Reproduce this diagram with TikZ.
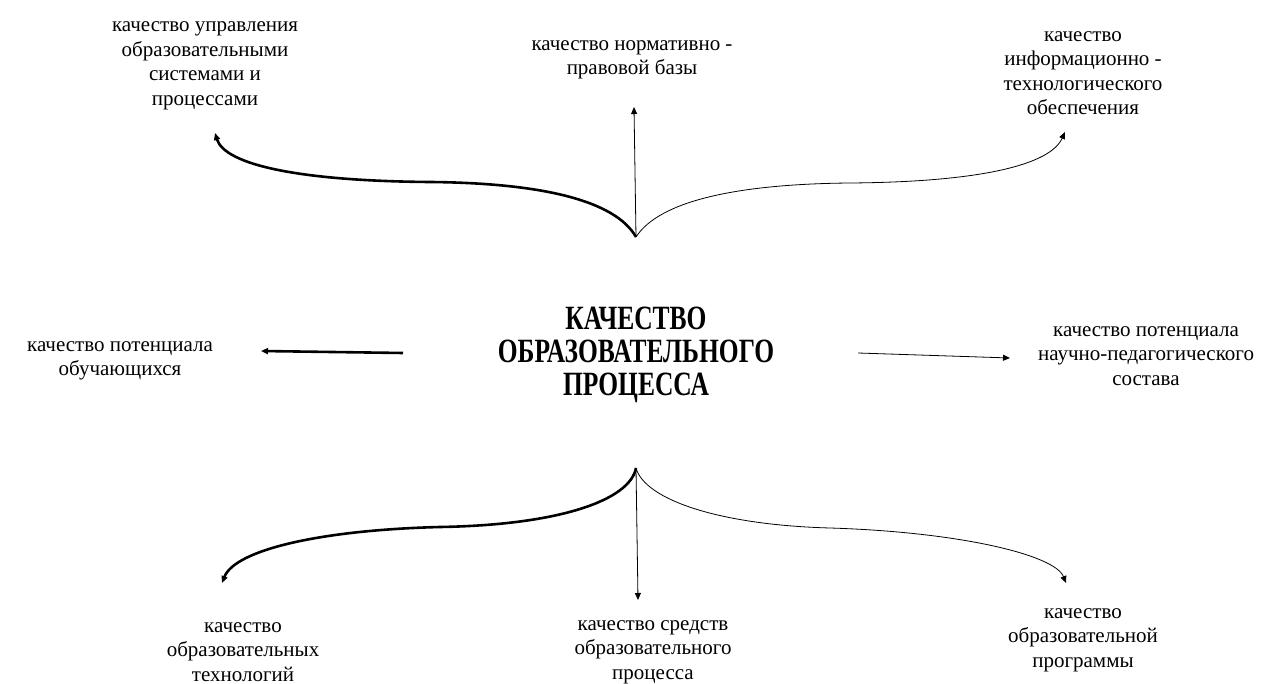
\documentclass[tikz,border=0pt]{standalone}
\usepackage{fontspec}
\setmainfont{Liberation Serif}
\newfontfamily\condbf[FakeStretch=0.75]{Liberation Serif Bold}
\usetikzlibrary{arrows.meta}
\begin{document}
\begin{tikzpicture}[x=1pt,y=-1pt,
  lbl/.style={align=center,font=\fontsize{21}{24.5}\selectfont,inner sep=0pt},
  ttl/.style={align=center,font=\condbf\fontsize{34}{33}\selectfont,inner sep=0pt},
  tipped/.style={-{Triangle[length=7pt,width=6pt]}},
  thk/.style={line width=2.6pt,tipped},
  thn/.style={line width=0.8pt,tipped}]
\useasboundingbox (0,0) rectangle (1264,684);
\fill[white] (0,0) rectangle (1264,684);
% title
\node[ttl] (title) at (636,355) {КАЧЕСТВО\\ОБРАЗОВАТЕЛЬНОГО\\ПРОЦЕССА};
% labels
\node[lbl] (upr) at (205,66) {качество управления\\образовательными\\системами и\\процессами};
\node[lbl] (norm) at (632,60) {качество нормативно -\\правовой базы};
\node[lbl] (info) at (1083,73) {качество\\информационно -\\технологического\\обеспечения};
\node[lbl] (obuch) at (120,361) {качество потенциала\\обучающихся};
\node[lbl] (nauch) at (1146,356) {качество потенциала\\научно-педагогического\\состава};
\node[lbl] (tech) at (243,652) {качество\\образовательных\\технологий};
\node[lbl] (sred) at (653,652) {качество средств\\образовательного\\процесса};
\node[lbl] (prog) at (1083,640) {качество\\образовательной\\программы};
% fork points and arrow ends
\coordinate (ft) at (636,237);
\coordinate (fb) at (636,468);
\coordinate (eupr) at (215,133);
\coordinate (enorm) at (634,107);
\coordinate (einfo) at (1065,132);
\coordinate (sobuch) at (403,353);
\coordinate (eobuch) at (261,351);
\coordinate (snauch) at (858,353);
\coordinate (enauch) at (1010,358);
\coordinate (etech) at (222,583);
\coordinate (esred) at (638,600);
\coordinate (eprog) at (1066,583);
% top connectors
\draw[thk] (ft) .. controls (615,200) and (540,183) .. (430,182)
  .. controls (300,181) and (225,165) .. (eupr);
\draw[thn] (ft) -- (enorm);
\draw[thn] (ft) .. controls (660,200) and (740,184) .. (850,183)
  .. controls (980,182) and (1050,165) .. (einfo);
% side connectors
\draw[thk] (sobuch) -- (eobuch);
\draw[thn] (snauch) -- (enauch);
% bottom connectors
\draw[thk] (fb) .. controls (630,500) and (560,525) .. (440,527)
  .. controls (320,530) and (235,550) .. (etech);
\draw[thn] (fb) -- (esred);
\draw[thn] (fb) .. controls (645,500) and (720,525) .. (830,528)
  .. controls (960,532) and (1055,555) .. (eprog);
\end{tikzpicture}
\end{document}
